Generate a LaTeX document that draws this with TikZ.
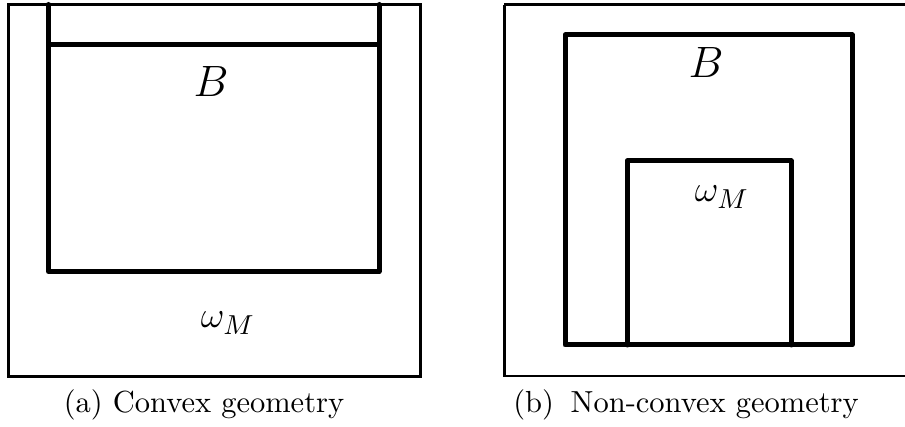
\documentclass[tikz,border=0pt]{standalone}
\begin{document}
\begin{tikzpicture}[x=0.328pt,y=-0.328pt,
  thinline/.style={line width=0.98pt},
  thickline/.style={line width=1.64pt, line cap=round, line join=round},
  lbl/.style={anchor=base, inner sep=0pt, font=\Large},
  wlbl/.style={anchor=base, inner sep=0pt, font=\fontsize{13}{15}\selectfont},
  captext/.style={anchor=base, inner sep=0pt}]
\useasboundingbox (0,0) rectangle (905,427);
\clip (0,0) rectangle (905,427);
% (a) convex geometry
\draw[thinline] (8.5,4.5) rectangle (420.5,376.5);
\draw[thickline] (48.5,4.5) -- (48.5,271.5) -- (379,271.5) -- (379,4.5);
\draw[thickline] (48.5,45) -- (379,45);
\node[lbl] (Ba) at (211,97) {$B$};
\node[wlbl] (wa) at (228,328) {$\omega_M$};
\node[captext] (capa) at (204,413) {(a) Convex geometry};
% (b) non-convex geometry
\draw[thinline] (504,5) -- (504,376) -- (910,376);
\draw[thinline] (910,5) -- (504,5);
\draw[thickline] (565,35) rectangle (852,345);
\draw[thickline] (627,345) -- (627,161) -- (791,161) -- (791,345);
\node[lbl] (Bb) at (706,78) {$B$};
\node[wlbl] (wb) at (722,202) {$\omega_M$};
\node[captext] (capb) at (686,413) {(b)\hspace{0.55em}Non-convex geometry};
\end{tikzpicture}
\end{document}
